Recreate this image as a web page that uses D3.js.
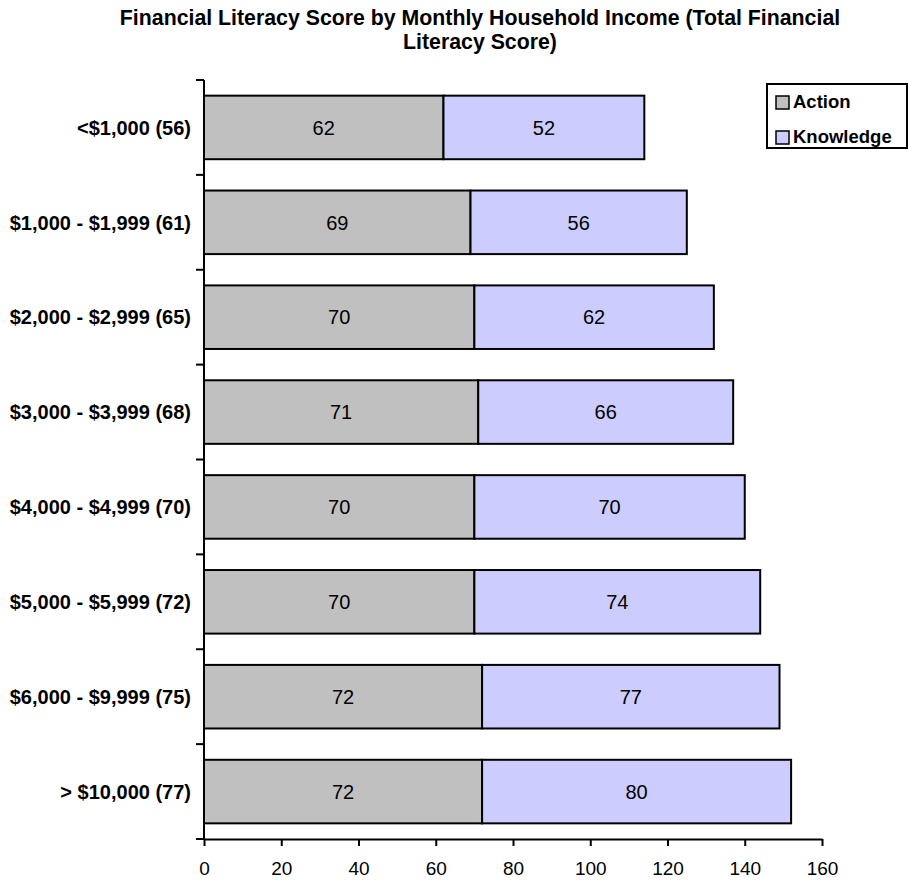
<!DOCTYPE html>
<html>
<head>
<meta charset="utf-8">
<script src="https://cdn.jsdelivr.net/npm/d3@7"></script>
<style>
  body { margin: 0; background: #fff; }
  text { font-family: "Liberation Sans", Arial, sans-serif; fill: #000; }
</style>
</head>
<body>
<div class="graphic"></div>
<script>
const categories = ['<$1,000 (56)', '$1,000 - $1,999 (61)', '$2,000 - $2,999 (65)', '$3,000 - $3,999 (68)',
  '$4,000 - $4,999 (70)', '$5,000 - $5,999 (72)', '$6,000 - $9,999 (75)', '> $10,000 (77)'];
const action = [62, 69, 70, 71, 70, 70, 72, 72];
const knowledge = [52, 56, 62, 66, 70, 74, 77, 80];
const seriesNames = ['Action', 'Knowledge'];
const seriesColors = ['#c0c0c0', '#ccccff'];
const xTicks = [0, 20, 40, 60, 80, 100, 120, 140, 160];

const width = 909, height = 888;
const margin = {top: 80, left: 204, right: 87, bottom: 49};

const svg = d3.select('.graphic')
  .append('svg')
  .attr('width', width)
  .attr('height', height);

const x = d3.scaleLinear()
  .domain([0, 160])
  .range([margin.left, width - margin.right]);

const y = d3.scaleBand()
  .domain(categories)
  .range([margin.top, height - margin.bottom])
  .paddingInner(0.33)
  .paddingOuter(0.165);

// title
svg.append('text')
  .attr('x', 480).attr('y', 25)
  .attr('text-anchor', 'middle')
  .style('font-weight', 'bold').style('font-size', '21.3px')
  .text('Financial Literacy Score by Monthly Household Income (Total Financial');
svg.append('text')
  .attr('x', 480).attr('y', 49)
  .attr('text-anchor', 'middle')
  .style('font-weight', 'bold').style('font-size', '21.3px')
  .text('Literacy Score)');

// stacked rows
const rows = categories.map((c, i) => ({cat: c, vals: [action[i], knowledge[i]]}));

rows.forEach(function (r) {
  let start = 0;
  r.vals.forEach(function (v, j) {
    svg.append('rect')
      .attr('x', x(start))
      .attr('y', y(r.cat))
      .attr('width', x(start + v) - x(start))
      .attr('height', y.bandwidth())
      .style('fill', seriesColors[j])
      .style('stroke', '#000')
      .style('stroke-width', 2);
    svg.append('text')
      .attr('x', x(start + v / 2))
      .attr('y', y(r.cat) + y.bandwidth() / 2)
      .attr('dy', '0.36em')
      .attr('text-anchor', 'middle')
      .style('font-size', '20px')
      .text(v);
    start += v;
  });
});

// y axis
const yAxis = svg.append('g');
yAxis.append('line')
  .attr('x1', margin.left).attr('x2', margin.left)
  .attr('y1', margin.top).attr('y2', height - margin.bottom)
  .style('stroke', '#000').style('stroke-width', 2);
d3.range(categories.length + 1).forEach(function (i) {
  const yy = margin.top + i * (height - margin.top - margin.bottom) / categories.length;
  yAxis.append('line')
    .attr('x1', margin.left - 8).attr('x2', margin.left)
    .attr('y1', yy).attr('y2', yy)
    .style('stroke', '#000').style('stroke-width', 2);
});
categories.forEach(function (c) {
  yAxis.append('text')
    .attr('x', 191)
    .attr('y', y(c) + y.bandwidth() / 2)
    .attr('dy', '0.36em')
    .attr('text-anchor', 'end')
    .style('font-weight', 'bold').style('font-size', '20px')
    .text(c);
});

// x axis
const xAxis = svg.append('g')
  .attr('transform', 'translate(0,' + (height - margin.bottom) + ')')
  .call(d3.axisBottom(x).tickValues(xTicks).tickSize(7).tickPadding(16).tickSizeOuter(0));
xAxis.select('.domain').style('stroke-width', 2);
xAxis.selectAll('.tick line').style('stroke-width', 2);
xAxis.selectAll('.tick text')
  .style('font-family', '"Liberation Sans", Arial, sans-serif')
  .style('font-size', '19px')
  .style('fill', '#000');

// legend
const legend = svg.append('g');
legend.append('rect')
  .attr('x', 767).attr('y', 84)
  .attr('width', 140).attr('height', 64)
  .style('fill', '#fff').style('stroke', '#000').style('stroke-width', 2);
seriesNames.forEach(function (s, i) {
  const ly = 108 + i * 35;
  legend.append('rect')
    .attr('x', 776).attr('y', ly - 12)
    .attr('width', 13).attr('height', 13)
    .style('fill', seriesColors[i])
    .style('stroke', '#000').style('stroke-width', 1.5);
  legend.append('text')
    .attr('x', 793).attr('y', ly)
    .style('font-weight', 'bold').style('font-size', '18.5px')
    .text(s);
});
</script>
</body>
</html>
